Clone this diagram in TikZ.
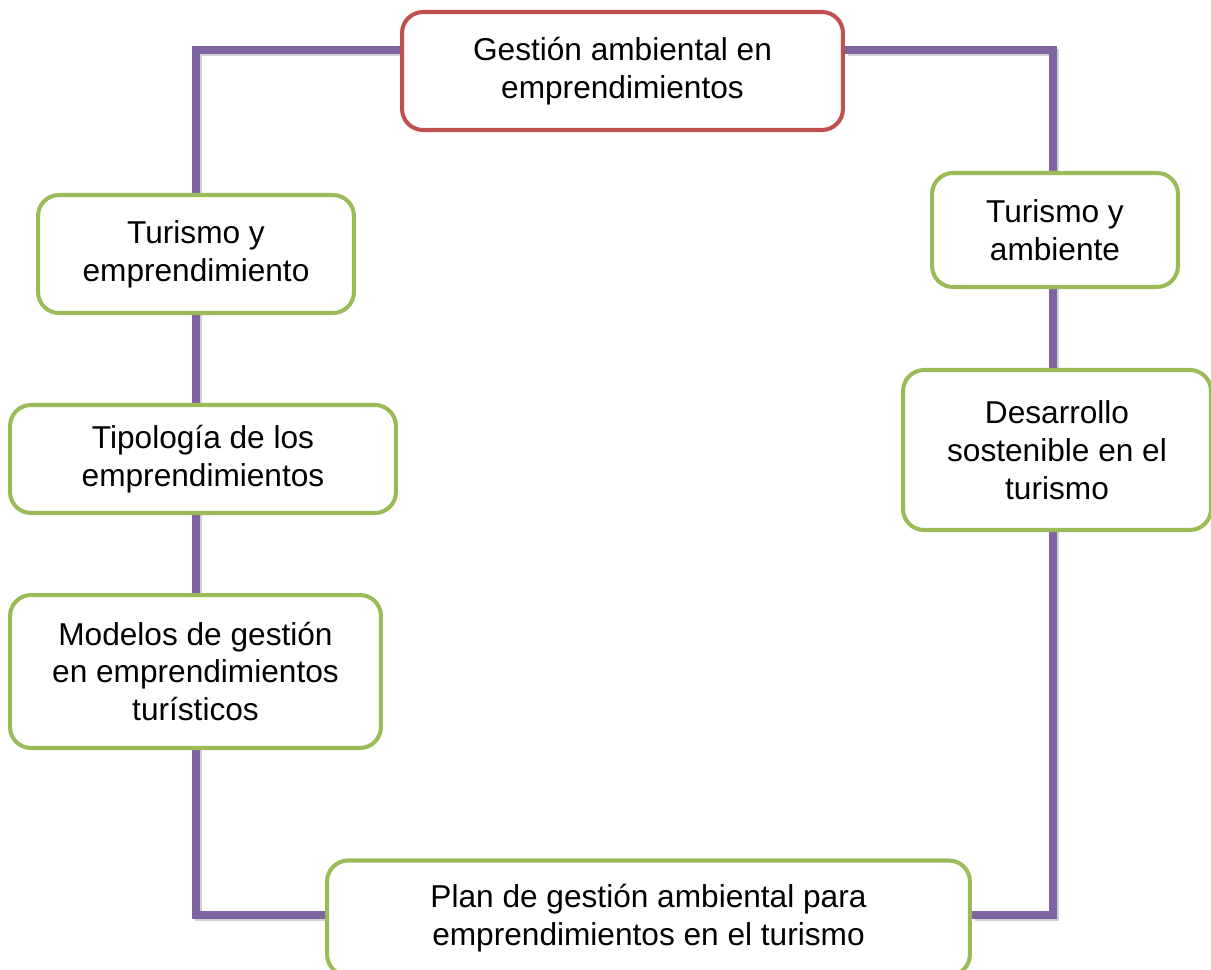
\documentclass[tikz,border=0pt]{standalone}
\usepackage{fontspec}
\setmainfont{Liberation Sans}
\usepackage{xcolor}
\usetikzlibrary{backgrounds}
\usetikzlibrary{positioning}

\definecolor{linkpurple}{HTML}{8064A2}
\definecolor{boxgreen}{HTML}{9BBB59}
\definecolor{boxred}{HTML}{C0504D}

\tikzset{
  topic/.style={draw=boxgreen, line width=2.3pt, rounded corners=0.42cm, fill=white,
    align=center, font=\fontsize{18}{21.5}\selectfont, inner sep=0pt},
  maintopic/.style={topic, draw=boxred},
  link/.style={draw=linkpurple, line width=4pt,
    preaction={draw=black!18, line width=4pt, transform canvas={shift={(1.6pt,-1.6pt)}}}}
}

\begin{document}
\begin{tikzpicture}[x=0.02cm, y=-0.02cm]

\useasboundingbox (0,0) rectangle (1211,970);

% Central topic
\node[maintopic, minimum width=8.82cm, minimum height=2.36cm] (gestion) at (622.5,71)
  {Gesti\'on ambiental en\\emprendimientos};

% Left column
\node[topic, minimum width=6.32cm, minimum height=2.36cm] (turemp) at (196,254)
  {Turismo y\\emprendimiento};
\node[topic, minimum width=7.72cm, minimum height=2.16cm] (tipologia) at (203,459)
  {Tipolog\'ia de los\\emprendimientos};
\node[topic, minimum width=7.42cm, minimum height=3.06cm] (modelos) at (195.5,671.5)
  {Modelos de gesti\'on\\en emprendimientos\\tur\'isticos};

% Right column
\node[topic, minimum width=4.92cm, minimum height=2.28cm] (turamb) at (1055,230)
  {Turismo y\\ambiente};
\node[topic, minimum width=6.16cm, minimum height=3.2cm] (desarrollo) at (1057,450)
  {Desarrollo\\sostenible en el\\turismo};

% Bottom topic
\node[topic, minimum width=12.86cm, minimum height=2.3cm] (plan) at (648.5,918)
  {Plan de gesti\'on ambiental para\\emprendimientos en el turismo};

% Corners of the frame
\coordinate (tl) at (196,50);
\coordinate (bl) at (196,915);
\coordinate (tr) at (1053,50);
\coordinate (br) at (1053,915);

% Purple frame behind the boxes
\begin{scope}[on background layer]
\draw[link] (gestion.west |- tl) -- (tl) -- (bl) -- (plan.west |- bl);
\draw[link] (gestion.east |- tr) -- (tr) -- (br) -- (plan.east |- br);
\end{scope}

\end{tikzpicture}
\end{document}
